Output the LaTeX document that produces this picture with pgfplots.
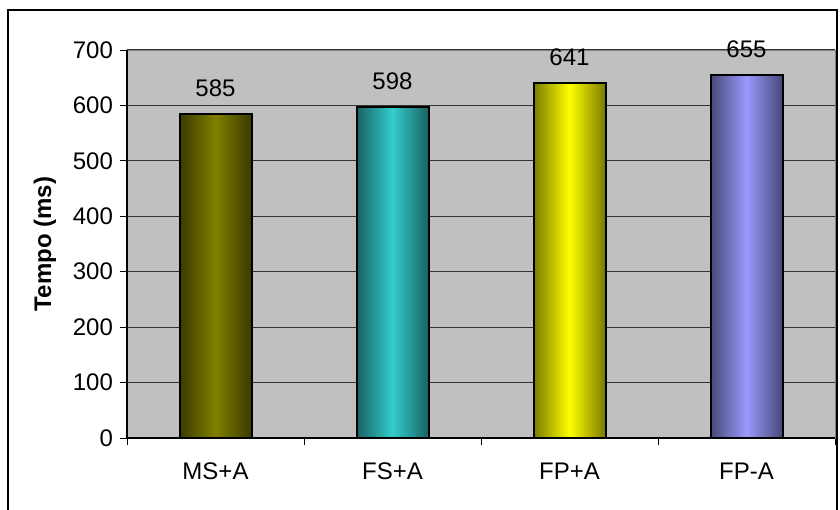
\documentclass[border=0pt]{standalone}
\usepackage{fontspec}
\setmainfont{Liberation Sans}
\usepackage{pgfplots}
\pgfplotsset{compat=1.18}
\definecolor{oliveL}{HTML}{808000}
\definecolor{oliveD}{HTML}{3A3A00}
\definecolor{tealL}{HTML}{33CCCC}
\definecolor{tealD}{HTML}{1A6262}
\definecolor{yelL}{HTML}{FFFF00}
\definecolor{yelD}{HTML}{7A7A00}
\definecolor{lavL}{HTML}{9999FF}
\definecolor{lavD}{HTML}{484878}
\definecolor{plotbg}{HTML}{C0C0C0}
\begin{document}
\begin{tikzpicture}[x=1pt,y=1pt]
\useasboundingbox (0,0) rectangle (420,254.5);
\draw[line width=0.6pt] (4,-5) rectangle (418.5,249.5);
\begin{axis}[
  at={(63.5pt,35.5pt)}, anchor=south west, scale only axis,
  width=354pt, height=194pt,
  xmin=-0.5, xmax=3.5, ymin=0, ymax=700,
  ytick={0,100,...,700},
  xtick={-0.5,0.5,1.5,2.5,3.5},
  x tick label as interval,
  xticklabels={MS+A,FS+A,FP+A,FP-A},
  xtick pos=bottom, ytick pos=left,
  tick align=outside, major tick length=3.5pt,
  tick style={black, line width=0.5pt},
  axis line style={draw=gray, line width=0.5pt},
  ymajorgrids, major grid style={black!80, line width=0.6pt},
  axis background/.style={fill=plotbg},
  tick label style={font=\fontsize{12}{14}\selectfont},
  /pgf/number format/assume math mode=true,
  xticklabel style={yshift=-5.5pt},
  every axis y label/.style={at={(axis description cs:0,0.5)}, xshift=-41pt, rotate=90, anchor=center, font=\fontsize{12}{14}\selectfont\bfseries},
  ylabel={Tempo (ms)},
  nodes near coords,
  nodes near coords style={anchor=base, yshift=8.5pt, font=\fontsize{12}{14}\selectfont, black},
  after end axis/.code={\draw[black, line width=0.6pt] (rel axis cs:0,1) -- (rel axis cs:0,0) -- (rel axis cs:1,0);},
  clip=false,
]
\addplot[ybar, bar width=36pt, bar shift=0pt, draw=black, line width=1pt, left color=oliveD, right color=oliveD, middle color=oliveL] coordinates {(0,585)};
\addplot[ybar, bar width=36pt, bar shift=0pt, draw=black, line width=1pt, left color=tealD, right color=tealD, middle color=tealL] coordinates {(1,598)};
\addplot[ybar, bar width=36pt, bar shift=0pt, draw=black, line width=1pt, left color=yelD, right color=yelD, middle color=yelL] coordinates {(2,641)};
\addplot[ybar, bar width=36pt, bar shift=0pt, draw=black, line width=1pt, left color=lavD, right color=lavD, middle color=lavL] coordinates {(3,655)};
\end{axis}
\end{tikzpicture}
\end{document}
